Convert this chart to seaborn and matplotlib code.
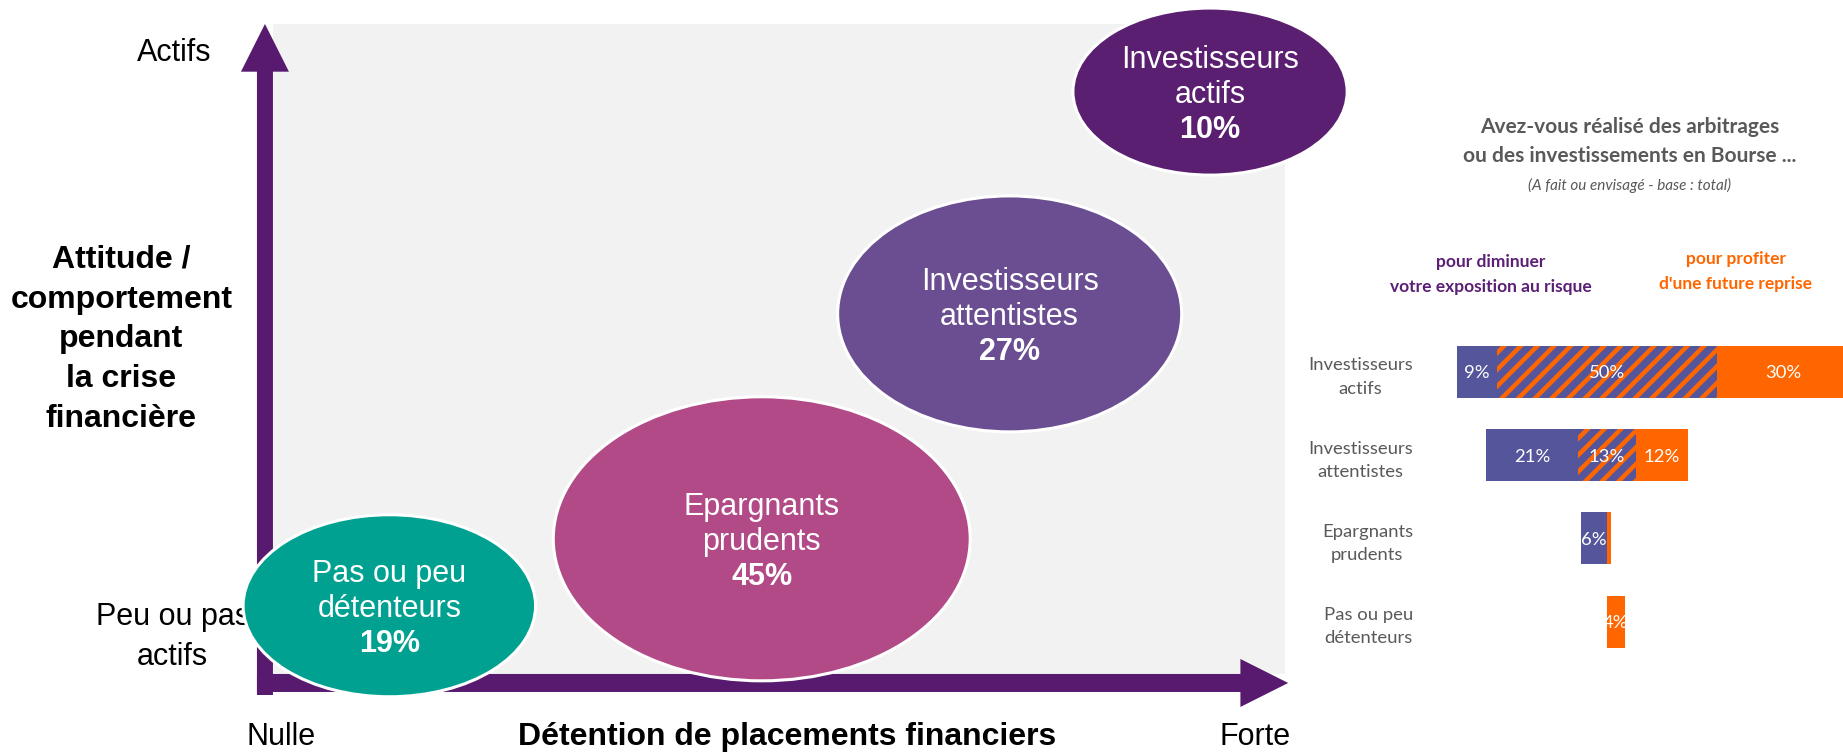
import numpy as np
import pandas as pd
import matplotlib.pyplot as plt
import seaborn as sns
from matplotlib.patches import Ellipse

plt.rcParams['font.family'] = ['Liberation Sans', 'DejaVu Sans']
plt.rcParams['hatch.linewidth'] = 3.2

violet = '#571A6E'
bleu = '#55559B'
orange = '#FF6600'
gris = '#595959'

# segments : position sur la carte (0-100) et taille de la bulle
segments = {
    'Nom': ['Pas ou peu\ndétenteurs', 'Epargnants\nprudents', 'Investisseurs\nattentistes', 'Investisseurs\nactifs'],
    'Part': [19, 45, 27, 10],
    'Detention': [11.5, 48.3, 72.8, 92.6],
    'Attitude': [10.5, 20.8, 55.4, 89.6],
    'Largeur': [28.9, 41.2, 34.0, 27.1],
    'Hauteur': [28.0, 43.7, 36.3, 25.7],
    'Couleur': ['#00A190', '#B24A88', '#6B4E91', '#5B1F71'],
}
df = pd.DataFrame(segments)

# arbitrages en Bourse (% a fait ou envisagé)
bourse = {
    'Segment': ['Investisseurs\nactifs', 'Investisseurs\nattentistes', 'Epargnants\nprudents', 'Pas ou peu\ndétenteurs'],
    'Risque': [9, 21, 6, 0],
    'Les_deux': [50, 13, 0, 0],
    'Reprise': [30, 12, 1, 4],
}
df_b = pd.DataFrame(bourse)
df_b['Milieu'] = df_b['Les_deux'] / 2
df_b['Gauche'] = -(df_b['Milieu'] + df_b['Risque'])
df_b['Droite'] = df_b['Milieu'] + df_b['Reprise']
df_b['Milieu_neg'] = -df_b['Milieu']
print(df_b)


plt.figure(figsize=(18.43, 7.54), dpi=100)

# --- carte des segments ---
ax = plt.axes([0.1481, 0.1061, 0.5491, 0.8621])
ax.set_facecolor('#F2F2F2')
plt.xlim(0, 100)
plt.ylim(0, 100)
plt.xticks([])
plt.yticks([])
for s in ax.spines.values():
    s.set_visible(False)

plt.arrow(-0.79, -3.23, 0, 103.23, width=1.58, head_width=4.74, head_length=7.34,
          length_includes_head=True, color=violet, lw=0, clip_on=False, zorder=2)
plt.arrow(-1.58, -1.38, 101.9, 0, width=2.77, head_width=7.38, head_length=4.72,
          length_includes_head=True, color=violet, lw=0, clip_on=False, zorder=2)

for i, r in df.iterrows():
    ax.add_patch(Ellipse((r['Detention'], r['Attitude']), r['Largeur'], r['Hauteur'],
                         facecolor=r['Couleur'], edgecolor='white', lw=2.2, clip_on=False, zorder=3))
    lignes = r['Nom'].split('\n') + [f"{r['Part']}%"]
    for k, (txt, dy) in enumerate(zip(lignes, [17.3, -7.9, -33.1])):
        plt.annotate(txt, (r['Detention'], r['Attitude']), xytext=(0, dy), textcoords='offset points',
                     ha='center', va='baseline', color='white', fontsize=22,
                     fontweight='bold' if k == 2 else 'normal', annotation_clip=False, zorder=4)

plt.text(-6.03, 94.3, 'Actifs', ha='right', va='baseline', fontsize=22, zorder=1)
plt.text(-14.97, 51.5, 'Attitude /\ncomportement\npendant\nla crise\nfinancière', ha='center', va='center',
         fontsize=23, fontweight='bold', linespacing=1.42, zorder=1)
plt.text(-9.9, 5.7, 'Peu ou pas\nactifs', ha='center', va='center', fontsize=22, linespacing=1.44, zorder=1)
plt.text(0.79, -10.9, 'Nulle', ha='center', va='baseline', fontsize=22)
plt.text(50.8, -10.9, 'Détention de placements financiers', ha='center', va='baseline', fontsize=23, fontweight='bold')
plt.text(97.0, -10.9, 'Forte', ha='center', va='baseline', fontsize=22)

# --- barres : arbitrages en Bourse ---
ax2 = plt.axes([0.7836, 0.1205, 0.2164, 0.4413])
sns.barplot(data=df_b, x='Droite', y='Segment', color=orange, saturation=1, width=0.625,
            errorbar=None, linewidth=0, ax=ax2)
sns.barplot(data=df_b, x='Gauche', y='Segment', color=bleu, saturation=1, width=0.625,
            errorbar=None, linewidth=0, ax=ax2)
sns.barplot(data=df_b, x='Milieu', y='Segment', color=bleu, saturation=1, width=0.625,
            errorbar=None, linewidth=0, edgecolor=orange, hatch='//', ax=ax2)
sns.barplot(data=df_b, x='Milieu_neg', y='Segment', color=bleu, saturation=1, width=0.625,
            errorbar=None, linewidth=0, edgecolor=orange, hatch='//', ax=ax2)
plt.xlim(-37, 53.64)
plt.xlabel('')
plt.ylabel('')
plt.xticks([])
plt.yticks(range(len(df_b)), df_b['Segment'], fontfamily='Lato', fontsize=13.3, color=gris,
           multialignment='center', linespacing=1.55)
ax2.tick_params(axis='y', length=0, pad=22.5)
for s in ax2.spines.values():
    s.set_visible(False)

for i, r in df_b.iterrows():
    etiquettes = [(r['Gauche'] + r['Risque'] / 2, r['Risque']), (0, r['Les_deux']),
                  (r['Droite'] - r['Reprise'] / 2, r['Reprise'])]
    for x, v in etiquettes:
        if v > 1:
            plt.text(x, i, f'{v}%', ha='center', va='center_baseline', color='white',
                     fontsize=13.3, fontfamily='Lato')

# titres du bloc de droite
plt.figtext(0.8844, 0.8236, 'Avez-vous réalisé des arbitrages', ha='center', va='baseline',
            fontsize=15, fontweight='bold', color=gris, fontfamily='Lato')
plt.figtext(0.8844, 0.7855, 'ou des investissements en Bourse ...', ha='center', va='baseline',
            fontsize=15, fontweight='bold', color=gris, fontfamily='Lato')
plt.figtext(0.8844, 0.748, '(A fait ou envisagé - base : total)', ha='center', va='baseline',
            fontsize=11, fontstyle='italic', color=gris, fontfamily='Lato')
plt.figtext(0.809, 0.6463, 'pour diminuer', ha='center', va='baseline',
            fontsize=12.5, fontweight='bold', color='#5B1F75', fontfamily='Lato')
plt.figtext(0.809, 0.6131, 'votre exposition au risque', ha='center', va='baseline',
            fontsize=12.5, fontweight='bold', color='#5B1F75', fontfamily='Lato')
plt.figtext(0.9418, 0.6499, 'pour profiter', ha='center', va='baseline',
            fontsize=12.5, fontweight='bold', color=orange, fontfamily='Lato')
plt.figtext(0.9418, 0.6167, "d'une future reprise", ha='center', va='baseline',
            fontsize=12.5, fontweight='bold', color=orange, fontfamily='Lato')

plt.savefig('out.png', dpi=100)
